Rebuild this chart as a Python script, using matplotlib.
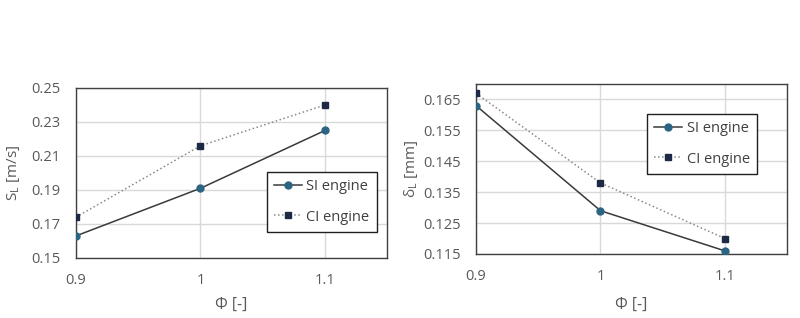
import matplotlib
matplotlib.use("Agg")
import matplotlib.pyplot as plt

# === Data ===
phi = [0.9, 1.0, 1.1]
sl_si = [0.163, 0.191, 0.225]
sl_ci = [0.174, 0.216, 0.240]
dl_si = [0.163, 0.129, 0.116]
dl_ci = [0.167, 0.138, 0.120]
xticks = [0.9, 1.0, 1.1]
xtick_labels = ['0.9', '1', '1.1']
sl_ticks = [0.15, 0.17, 0.19, 0.21, 0.23, 0.25]
dl_ticks = [0.115, 0.125, 0.135, 0.145, 0.155, 0.165]

plt.rcParams['font.family'] = ['Open Sans', 'DejaVu Sans']
plt.rcParams['mathtext.fontset'] = 'custom'
plt.rcParams['mathtext.rm'] = 'Open Sans'

txt = '#595959'
fig = plt.figure(figsize=(8, 3.18), dpi=100)
ax1 = fig.add_axes([0.095, 0.1887, 0.389, 0.5346])
ax2 = fig.add_axes([0.595, 0.2013, 0.389, 0.5346])


def style(ax, si, ci, yticks, ylim, ylabel, fmt, leg_anchor, ylab_x, xlab_y):
    ax.plot(phi, si, '-', color='#3a3a3a', lw=1.1, marker='o', ms=5,
            mfc='#2b6584', mec='#2b6584', label='SI engine', zorder=3)
    ax.plot(phi, ci, ':', color='#8a8a8a', lw=1.1, marker='s', ms=5,
            mfc='#1e2a45', mec='#1e2a45', label='CI engine', zorder=3)
    ax.set_xlim(0.9, 1.15)
    ax.set_ylim(*ylim)
    ax.set_xticks(xticks)
    ax.set_xticklabels(xtick_labels)
    ax.set_yticks(yticks)
    ax.set_yticklabels([fmt.format(v) for v in yticks])
    ax.grid(True, color='#d9d9d9', lw=1)
    ax.set_axisbelow(True)
    ax.tick_params(length=0, labelsize=10.5, labelcolor=txt)
    ax.tick_params(axis='x', pad=11)
    ax.tick_params(axis='y', pad=11)
    for s in ax.spines.values():
        s.set_color('#404040')
        s.set_linewidth(1)
    ax.set_xlabel('Φ [-]', fontsize=11.5, color=txt)
    ax.set_ylabel(ylabel, fontsize=11, color=txt)
    ax.yaxis.set_label_coords(ylab_x, 0.5)
    ax.xaxis.set_label_coords(0.5, xlab_y)
    leg = ax.legend(loc='upper left', bbox_to_anchor=leg_anchor, fontsize=10.5,
                    fancybox=False, framealpha=1, edgecolor='#202020',
                    handlelength=1.9, handletextpad=0.3, borderpad=0.5,
                    labelspacing=1.05, borderaxespad=0)
    leg.get_frame().set_linewidth(1)
    for t in leg.get_texts():
        t.set_color('#404040')


style(ax1, sl_si, sl_ci, sl_ticks, (0.15, 0.25), r'S$_{\mathrm{L}}$ [m/s]',
      '{:.2f}', (0.614, 0.506), -0.174, -0.23)
style(ax2, dl_si, dl_ci, dl_ticks, (0.115, 0.17), r'δ$_{\mathrm{L}}$ [mm]',
      '{:.3f}', (0.55, 0.824), -0.18, -0.253)

fig.savefig('out.png', dpi=100)
